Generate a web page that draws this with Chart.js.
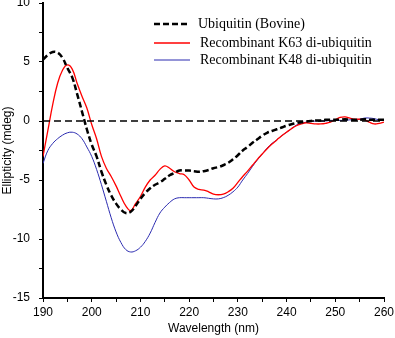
<!DOCTYPE html>
<html>
<head>
<meta charset="utf-8">
<script src="https://cdn.jsdelivr.net/npm/chart.js@4/dist/chart.umd.min.js"></script>
<style>
    body { margin: 0; background: #fff; }
    #wrap { width: 395px; height: 338px; }
</style>
</head>
<body>
<div id="wrap"><canvas id="cd" width="395" height="338"></canvas></div>
<script>
const wavelength = [];
for (let w = 190; w <= 260; w++) wavelength.push(w);

const ubiquitin = [
    5.2, 5.6, 5.85, 5.8, 5.35, 4.5, 3.7, 2.3, 0.8, -0.7,
    -2.0, -3.0, -4.3, -5.4, -6.3, -7.0, -7.5, -7.8, -7.7, -7.2,
    -6.6, -6.1, -5.7, -5.4, -5.2, -4.9, -4.6, -4.4, -4.2, -4.2,
    -4.2, -4.25, -4.3, -4.25, -4.15, -4.0, -3.9, -3.75, -3.55, -3.25,
    -2.9, -2.5, -2.2, -1.85, -1.55, -1.25, -1.0, -0.85, -0.7, -0.55,
    -0.4, -0.28, -0.18, -0.1, -0.05, 0, 0.05, 0.05, 0.1, 0.1,
    0.1, 0.1, 0.15, 0.1, 0.1, 0.1, 0.15, 0.1, 0.1, 0.1, 0.1
];
const k63 = [
    -3.0, -0.8, 1.4, 3.2, 4.3, 4.75, 4.4, 3.2, 2.1, 1.1,
    -0.3, -1.5, -3.0, -4.0, -4.7, -5.5, -6.4, -7.2, -7.6, -7.0,
    -6.4, -5.6, -5.0, -4.6, -4.1, -3.8, -4.0, -4.3, -4.45, -4.55,
    -5.0, -5.6, -5.8, -5.85, -6.0, -6.2, -6.25, -6.2, -6.0, -5.7,
    -5.2, -4.7, -4.25, -3.75, -3.25, -2.8, -2.35, -1.95, -1.6, -1.25,
    -0.95, -0.65, -0.4, -0.25, -0.15, -0.2, -0.25, -0.25, -0.2, -0.1,
    0.1, 0.3, 0.35, 0.25, 0.15, 0.15, 0.1, -0.1, -0.25, -0.2, -0.1
];
const k48 = [
    -3.6, -2.5, -1.9, -1.5, -1.2, -1.0, -0.95, -1.1, -1.5, -2.2,
    -3.0, -4.1, -5.4, -6.8, -8.2, -9.4, -10.3, -10.9, -11.1, -11.0,
    -10.7, -10.2, -9.5, -8.6, -7.8, -7.3, -6.9, -6.6, -6.5, -6.5,
    -6.5, -6.5, -6.5, -6.5, -6.55, -6.6, -6.6, -6.5, -6.3, -6.0,
    -5.6, -5.0, -4.45, -3.85, -3.3, -2.8, -2.3, -1.9, -1.6, -1.25,
    -0.95, -0.65, -0.35, -0.2, -0.1, -0.05, 0, 0, 0, 0.05,
    0.05, 0.05, 0.05, 0.1, 0.1, 0.15, 0.25, 0.25, 0.2, 0.1, 0.1
];
const baselineX = [190, 260];
const baselineY = [0, 0];

const seriesNames = ["Ubiquitin (Bovine)", "Recombinant K63 di-ubiquitin", "Recombinant K48 di-ubiquitin"];

function pts(xs, ys) {
    return xs.map(function (x, i) { return { x: x, y: ys[i] }; });
}

// legend drawn inside the plot, top right, like the original figure
const cornerLegend = {
    id: "cornerLegend",
    afterDraw: function (chart) {
        const ctx = chart.ctx;
        const rows = [
            { ds: chart.data.datasets[1], y: 24, tx: 198 },
            { ds: chart.data.datasets[2], y: 43, tx: 200 },
            { ds: chart.data.datasets[3], y: 60, tx: 200 }
        ];
        ctx.save();
        ctx.font = "14px 'Liberation Serif', 'Times New Roman', serif";
        ctx.textBaseline = "middle";
        ctx.fillStyle = "#000";
        rows.forEach(function (r) {
            ctx.beginPath();
            ctx.strokeStyle = r.ds.borderColor;
            ctx.lineWidth = r.ds.borderWidth;
            ctx.setLineDash(r.ds.borderDash || []);
            ctx.moveTo(154, r.y);
            ctx.lineTo(190, r.y);
            ctx.stroke();
            ctx.setLineDash([]);
            ctx.fillText(r.ds.label, r.tx, r.y);
        });
        ctx.restore();
    }
};

const axisFont = { family: "'Liberation Sans', Arial, sans-serif", size: 12 };

new Chart(document.getElementById("cd"), {
    type: "line",
    data: {
        datasets: [
            {
                label: "zero",
                data: pts(baselineX, baselineY),
                borderColor: "#000",
                borderWidth: 1.5,
                borderDash: [7, 4],
                pointRadius: 0,
                tension: 0
            },
            {
                label: seriesNames[0],
                data: pts(wavelength, ubiquitin),
                borderColor: "#000",
                borderWidth: 2.5,
                borderDash: [6, 3],
                pointRadius: 0,
                tension: 0.4
            },
            {
                label: seriesNames[1],
                data: pts(wavelength, k63),
                borderColor: "#ff0000",
                borderWidth: 1.3,
                pointRadius: 0,
                tension: 0.4
            },
            {
                label: seriesNames[2],
                data: pts(wavelength, k48),
                borderColor: "#2b2bb0",
                borderWidth: 1,
                pointRadius: 0,
                tension: 0.4
            }
        ]
    },
    options: {
        responsive: false,
        animation: false,
        devicePixelRatio: 1,
        layout: { padding: { top: 3, right: 11, left: 0, bottom: 0 } },
        plugins: { legend: { display: false }, tooltip: { enabled: false } },
        scales: {
            x: {
                type: "linear",
                min: 190,
                max: 260,
                afterFit: function (s) { s.height = 40; s.paddingLeft = 0; s.paddingRight = 0; },
                ticks: {
                    stepSize: 5,
                    autoSkip: false,
                    maxRotation: 0,
                    color: "#000",
                    font: axisFont,
                    padding: 3,
                    callback: function (v) { return v % 10 === 0 ? String(v) : ""; }
                },
                grid: { drawOnChartArea: false, drawTicks: true, tickLength: 4, color: "#000", lineWidth: 1 },
                border: { display: true, color: "#000", width: 2 },
                title: { display: true, text: "Wavelength (nm)", color: "#000", font: axisFont, padding: { top: 0, bottom: 2 } }
            },
            y: {
                min: -15,
                max: 10,
                afterFit: function (s) { s.width = 43; s.paddingTop = 0; s.paddingBottom = 0; },
                ticks: {
                    stepSize: 2.5,
                    autoSkip: false,
                    color: "#000",
                    font: axisFont,
                    padding: 9,
                    callback: function (v) { return v % 5 === 0 ? String(v) : ""; }
                },
                grid: { drawOnChartArea: false, drawTicks: true, tickLength: 4, color: "#000", lineWidth: 1 },
                border: { display: true, color: "#000", width: 2 },
                title: { display: true, text: "Ellipticity (mdeg)", color: "#000", font: axisFont, padding: { top: 0, bottom: 0 } }
            }
        }
    },
    plugins: [cornerLegend]
});
</script>
</body>
</html>
